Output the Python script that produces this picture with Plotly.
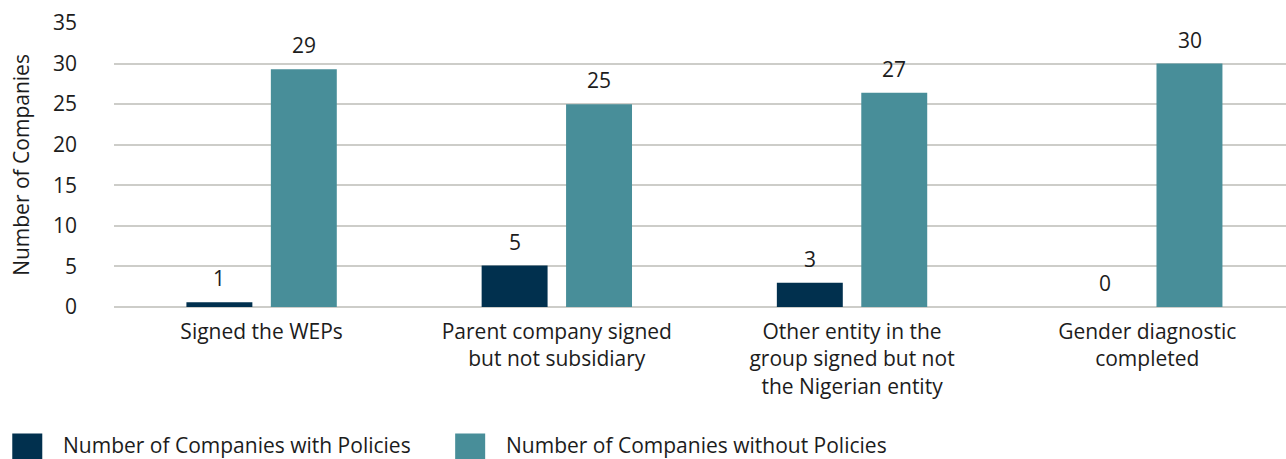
import plotly.graph_objects as go

categories = ["Signed the WEPs",
              "Parent company signed<br>but not subsidiary",
              "Other entity in the<br>group signed but not<br>the Nigerian entity",
              "Gender diagnostic<br>completed"]
with_policies = [0.6, 5.1, 3.0, 0.0]
without_policies = [29.3, 25.0, 26.4, 30.0]
with_labels = ["1", "5", "3", "0"]
without_labels = ["29", "25", "27", "30"]
series_names = ["Number of Companies with Policies", "Number of Companies without Policies"]
colors = ["#01304e", "#488e99"]
y_ticks = [0, 5, 10, 15, 20, 25, 30, 35]

FONT = "Open Sans"
TXT = "#1c1c1c"
FS = 21

fig = go.Figure()
fig.add_trace(go.Bar(x=categories, y=with_policies, name=series_names[0],
                     marker=dict(color=colors[0], line=dict(width=0)), showlegend=False))
fig.add_trace(go.Bar(x=categories, y=without_policies, name=series_names[1],
                     marker=dict(color=colors[1], line=dict(width=0)), showlegend=False))

slot_px = 42.25
for vals, labs, sign in [(with_policies, with_labels, -1), (without_policies, without_labels, 1)]:
    for c, v, t in zip(categories, vals, labs):
        fig.add_annotation(x=c, y=v, text=t, showarrow=False, xanchor="center",
                           yanchor="bottom", xshift=sign * slot_px, yshift=8,
                           font=dict(family=FONT, size=FS, color=TXT))

# legend drawn manually with large swatches
legend_items = [(-0.0868, series_names[0]), (0.2911, series_names[1])]
for (x0, name), col in zip(legend_items, colors):
    fig.add_shape(type="rect", xref="paper", yref="paper", x0=x0, x1=x0 + 0.0256,
                  y0=-0.56, y1=-0.4457, fillcolor=col, line=dict(width=0))
    fig.add_annotation(xref="paper", yref="paper", x=x0 + 0.0426, y=-0.486, text=name,
                       showarrow=False, xanchor="left", yanchor="middle", borderpad=0,
                       font=dict(family=FONT, size=FS, color=TXT))

fig.update_layout(
    width=1286, height=459,
    margin=dict(l=114, r=0, t=23, b=152),
    plot_bgcolor="white", paper_bgcolor="white",
    barmode="group", bargap=0.428, bargroupgap=0.219,
    font=dict(family=FONT, size=FS, color=TXT),
    xaxis=dict(range=[-0.5, 3.47], showgrid=False, showline=False, ticks="",
               tickfont=dict(size=FS, color=TXT), ticklabelstandoff=10),
    yaxis=dict(range=[0, 35], tickvals=y_ticks, showgrid=True, gridcolor="#cdcdc9",
               gridwidth=1.5, zeroline=True, zerolinecolor="#cdcdc9", zerolinewidth=1.5,
               tickfont=dict(size=FS, color=TXT), ticklabelstandoff=36,
               title=dict(text="Number of Companies", font=dict(size=FS, color=TXT), standoff=17)),
)
fig.write_html("out.html", config={"displayModeBar": False},
               post_script="document.body.style.margin='0';document.body.style.overflow='hidden';")
